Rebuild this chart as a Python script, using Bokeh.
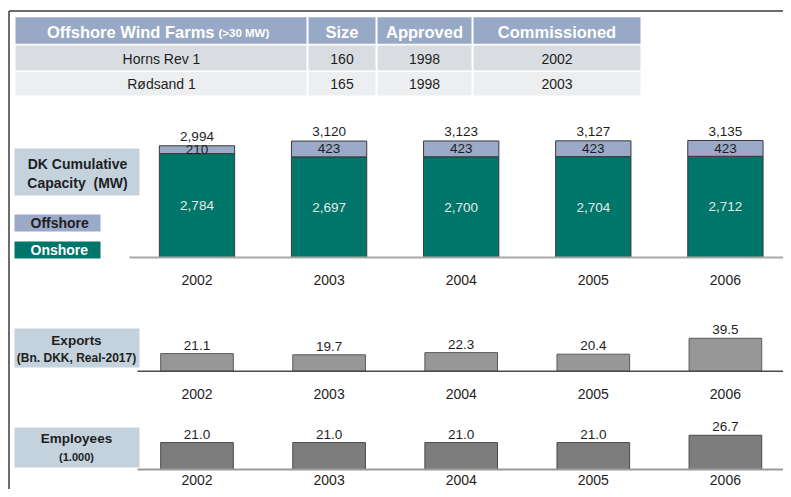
from bokeh.plotting import figure
from bokeh.models import Range1d
from bokeh.embed import file_html
from bokeh.resources import INLINE
from bokeh.core.properties import value

# ---------------- data ----------------
years = [2002, 2003, 2004, 2005, 2006]
offshore = [210, 423, 423, 423, 423]
onshore = [2784, 2697, 2700, 2704, 2712]
totals = [2994, 3120, 3123, 3127, 3135]
exports = [21.1, 19.7, 22.3, 20.4, 39.5]
employees = [21.0, 21.0, 21.0, 21.0, 26.7]

table_header = ["Offshore Wind Farms", "Size", "Approved", "Commissioned"]
table_header_note = "(>30 MW)"
farms = ["Horns Rev 1", "Rødsand 1"]
farm_size = [160, 165]
farm_approved = [1998, 1998]
farm_commissioned = [2002, 2003]

# ---------------- layout helpers ----------------
W, H = 783, 489
M = 0
def X(v):
    return v - M
def Y(v):
    return v - M

FONT = value("Liberation Sans")

p = figure(width=W, height=H, x_range=Range1d(0, W), y_range=Range1d(H, 0),
           output_backend="svg", toolbar_location=None, min_border=0,
           x_axis_type=None, y_axis_type=None)
p.grid.visible = False
p.outline_line_color = None
p.background_fill_color = "white"
p.border_fill_color = "white"

# year scale: 2002 -> x 196.5, 132.1 px per year
x0_page, px_per_year = 196.5, 132.1
p.extra_x_ranges = {"yr": Range1d(years[0] - (x0_page - M) / px_per_year,
                                  years[0] + (M + W - x0_page) / px_per_year)}

def yrange(base_page, units_per_px):
    return Range1d(-(M + H - base_page) * units_per_px, (base_page - M) * units_per_px)

p.extra_y_ranges = {
    "cap": yrange(257.0, 26.8),
    "exp": yrange(370.7, 1.2),
    "emp": yrange(469.0, 0.78),
}

# ---------------- frame lines ----------------
p.segment(x0=[X(8.5), X(8.5)], y0=[Y(10.5), Y(10.5)], x1=[X(791), X(8.5)], y1=[Y(10.5), Y(497)],
          line_color="#3c3c3c", line_width=1.5)

# ---------------- table ----------------
col_edges = [15, 307, 376, 472, 641]
row_edges = [(16.7, 43.3), (45.0, 70.0), (71.5, 95.0)]
row_colors = ["#97a9c6", "#d9dde1", "#eceef0"]
for (top, bot), col in zip(row_edges, row_colors):
    p.quad(left=[X(col_edges[i] + (1 if i else 0)) for i in range(4)],
           right=[X(col_edges[i + 1] - 1) for i in range(4)],
           top=[Y(top)] * 4, bottom=[Y(bot)] * 4,
           fill_color=col, line_color=None)

col_centers = [(col_edges[i] + col_edges[i + 1]) / 2 for i in range(4)]
# header
p.text(x=[X(214)], y=[Y(31)], text=[table_header[0]], text_font=FONT, text_font_size="16.5px",
       text_font_style="bold", text_color="white", text_align="right", text_baseline="middle")
p.text(x=[X(218)], y=[Y(32)], text=[table_header_note], text_font=FONT, text_font_size="11.5px",
       text_font_style="bold", text_color="white", text_align="left", text_baseline="middle")
p.text(x=[X(c) for c in col_centers[1:]], y=[Y(31)] * 3, text=table_header[1:], text_font=FONT,
       text_font_size="16.5px", text_font_style="bold", text_color="white",
       text_align="center", text_baseline="middle")
for r, ymid in enumerate([58.0, 83.0]):
    vals = [farms[r], str(farm_size[r]), str(farm_approved[r]), str(farm_commissioned[r])]
    p.text(x=[X(c) for c in col_centers], y=[Y(ymid)] * 4, text=vals, text_font=FONT,
           text_font_size="14px", text_color="#1e1e1e", text_align="center", text_baseline="middle")

# ---------------- left label boxes ----------------
p.quad(left=[X(14)] * 3, right=[X(139)] * 3, top=[Y(148), Y(328), Y(427)],
       bottom=[Y(195), Y(367), Y(467)], fill_color="#c4d2dd", line_color=None)
p.quad(left=[X(14), X(14)], right=[X(100), X(100)], top=[Y(214), Y(241)], bottom=[Y(231), Y(258)],
       fill_color=["#9aaac8", "#00766a"], line_color=None)

p.text(x=[X(77), X(77)], y=[Y(163), Y(182)], text=["DK Cumulative", "Capacity\u00a0 (MW)"], text_font=FONT,
       text_font_size="14px", text_font_style="bold", text_color="#1e1e1e",
       text_align="center", text_baseline="middle")
p.text(x=[X(30)], y=[Y(222)], text=["Offshore"], text_font=FONT, text_font_size="14px",
       text_font_style="bold", text_color="#1e1e1e", text_align="left", text_baseline="middle")
p.text(x=[X(30)], y=[Y(249.5)], text=["Onshore"], text_font=FONT, text_font_size="14px",
       text_font_style="bold", text_color="white", text_align="left", text_baseline="middle")
p.text(x=[X(76)], y=[Y(339.5)], text=["Exports"], text_font=FONT, text_font_size="13.5px",
       text_font_style="bold", text_color="#1e1e1e", text_align="center", text_baseline="middle")
p.text(x=[X(76)], y=[Y(357.5)], text=["(Bn. DKK, Real-2017)"], text_font=FONT, text_font_size="12px",
       text_font_style="bold", text_color="#1e1e1e", text_align="center", text_baseline="middle")
p.text(x=[X(76)], y=[Y(438)], text=["Employees"], text_font=FONT, text_font_size="13.5px",
       text_font_style="bold", text_color="#1e1e1e", text_align="center", text_baseline="middle")
p.text(x=[X(76)], y=[Y(456)], text=["(1.000)"], text_font=FONT, text_font_size="11px",
       text_font_style="bold", text_color="#1e1e1e", text_align="center", text_baseline="middle")

# ---------------- capacity stacked bars ----------------
bw_cap = 0.57
p.vbar(x=years, width=bw_cap, bottom=0, top=onshore, x_range_name="yr", y_range_name="cap",
       fill_color="#00766a", line_color="#3a3a3a", line_width=1)
p.vbar(x=years, width=bw_cap, bottom=onshore, top=totals, x_range_name="yr", y_range_name="cap",
       fill_color="#9aaac8", line_color="#3a3a3a", line_width=1)
p.segment(x0=[X(129)], y0=[Y(257)], x1=[X(791)], y1=[Y(257)], line_color="#a8a8a8", line_width=2)

p.text(x=years, y=[o / 2 for o in onshore], text=[f"{v:,}" for v in onshore], x_range_name="yr",
       y_range_name="cap", text_font=FONT, text_font_size="13.5px", text_color="#e6ecea",
       text_align="center", text_baseline="middle")
p.text(x=years, y=[a + o / 2 for a, o in zip(onshore, offshore)], text=[f"{v:,}" for v in offshore],
       x_range_name="yr", y_range_name="cap", text_font=FONT, text_font_size="13.5px",
       text_color="#1e1e1e", text_align="center", text_baseline="middle")
p.text(x=years, y=totals, text=[f"{v:,}" for v in totals], x_range_name="yr", y_range_name="cap",
       y_offset=-5, text_font=FONT, text_font_size="13.5px", text_color="#1e1e1e",
       text_align="center", text_baseline="bottom")
p.text(x=years, y=[Y(279)] * 5, text=[str(y) for y in years], x_range_name="yr", text_font=FONT,
       text_font_size="14px", text_color="#1e1e1e", text_align="center", text_baseline="middle")

# ---------------- exports bars ----------------
bw = 0.55
p.vbar(x=years, width=bw, bottom=0, top=exports, x_range_name="yr", y_range_name="exp",
       fill_color="#979797", line_color="#5a5a5a", line_width=1)
p.segment(x0=[X(137)], y0=[Y(370.7)], x1=[X(791)], y1=[Y(370.7)], line_color="#4a4a4a", line_width=1.5)
p.text(x=years, y=exports, text=[f"{v:.1f}" for v in exports], x_range_name="yr", y_range_name="exp",
       y_offset=-4, text_font=FONT, text_font_size="13.5px", text_color="#1e1e1e",
       text_align="center", text_baseline="bottom")
p.text(x=years, y=[Y(393)] * 5, text=[str(y) for y in years], x_range_name="yr", text_font=FONT,
       text_font_size="14px", text_color="#1e1e1e", text_align="center", text_baseline="middle")

# ---------------- employees bars ----------------
p.vbar(x=years, width=bw, bottom=0, top=employees, x_range_name="yr", y_range_name="emp",
       fill_color="#7d7d7d", line_color="#4a4a4a", line_width=1)
p.segment(x0=[X(137)], y0=[Y(469)], x1=[X(791)], y1=[Y(469)], line_color="#9a9a9a", line_width=2)
p.text(x=years, y=employees, text=[f"{v:.1f}" for v in employees], x_range_name="yr", y_range_name="emp",
       y_offset=-4, text_font=FONT, text_font_size="13.5px", text_color="#1e1e1e",
       text_align="center", text_baseline="bottom")
p.text(x=years, y=[Y(479)] * 5, text=[str(y) for y in years], x_range_name="yr", text_font=FONT,
       text_font_size="14px", text_color="#1e1e1e", text_align="center", text_baseline="middle")

open("out.html", "w").write(file_html(p, INLINE))
